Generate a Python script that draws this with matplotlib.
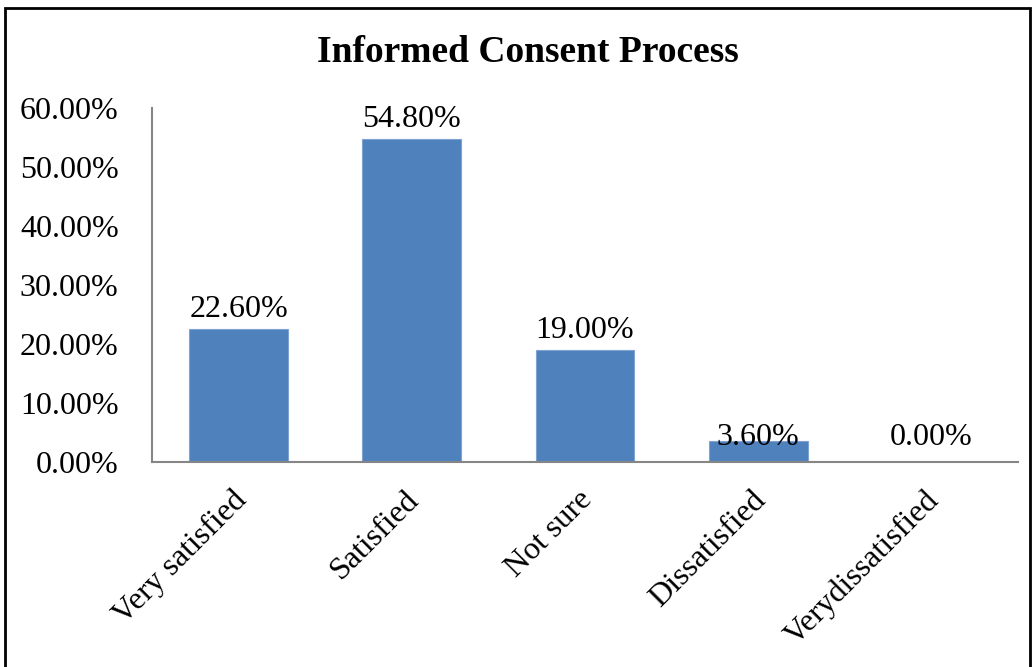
import matplotlib.pyplot as plt
import matplotlib.patches as mpatches
import matplotlib.transforms as mtransforms
from matplotlib.ticker import FuncFormatter

categories = ["Very satisfied", "Satisfied", "Not sure", "Dissatisfied", "Verydissatisfied"]
percentages = [22.6, 54.8, 19.0, 3.6, 0.0]

plt.rcParams['font.family'] = ['Liberation Serif', 'DejaVu Serif']

fig = plt.figure(figsize=(10.36, 6.67), dpi=100)
ax = fig.add_axes([152 / 1036, 1 - 462 / 667, 866 / 1036, 354 / 667])

x = range(len(categories))
bars = ax.bar(x, percentages, width=0.57, color="#4F81BD", edgecolor="#7FA3D3", linewidth=0.8)

# value labels sit just above each bar; very short bars get a fixed low label line
for xi, v in zip(x, percentages):
    if v >= 5:
        ax.annotate(f"{v:.2f}%", (xi, v), xytext=(0, 8.5), textcoords="offset points",
                    ha="center", va="baseline", fontsize=23)
    else:
        ax.text(xi, 2.9, f"{v:.2f}%", ha="center", va="baseline", fontsize=23)

ax.set_xlim(-0.5, 4.5)
ax.set_ylim(0, 60)
ax.set_yticks(range(0, 61, 10))
ax.yaxis.set_major_formatter(FuncFormatter(lambda v, p: f"{v:.2f}%"))
ax.set_xticks(list(x))
ax.set_xticklabels(categories, rotation=45, ha="right", rotation_mode="anchor")
ax.tick_params(axis="both", length=0, labelsize=23)
ax.tick_params(axis="y", pad=24)
ax.tick_params(axis="x", pad=17)

# nudge the slanted category labels a little to the left
shift = mtransforms.ScaledTranslation(-5 / 72, 0, fig.dpi_scale_trans)
for lbl in ax.get_xticklabels():
    lbl.set_transform(lbl.get_transform() + shift)

for side in ["top", "right"]:
    ax.spines[side].set_visible(False)
for side in ["left", "bottom"]:
    ax.spines[side].set_color("#868686")
    ax.spines[side].set_linewidth(1.5)

fig.text(528 / 1036, 1 - 53 / 667, "Informed Consent Process", ha="center", va="center",
         fontsize=27, fontweight="bold")

# frame around the whole chart
frame = mpatches.Rectangle((5 / 1036, -0.05), 1025 / 1036, 1.05 - 8 / 667,
                           transform=fig.transFigure, fill=False, edgecolor="black",
                           linewidth=2, clip_on=False)
fig.patches.append(frame)

fig.savefig("out.png", dpi=100)
